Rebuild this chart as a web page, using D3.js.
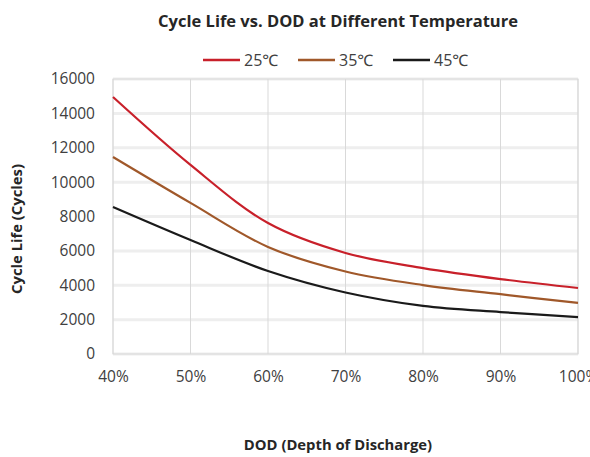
<!DOCTYPE html>
<html>
<head>
<meta charset="utf-8">
<script src="https://cdn.jsdelivr.net/npm/d3@7"></script>
<style>
  body { margin: 0; background: #fff; }
  svg { display: block; font-family: "Open Sans", "Noto Sans", sans-serif; }
</style>
</head>
<body>
<div id="chart"></div>
<script>
// values
var dod = [40, 50, 60, 70, 80, 90, 100];
var life25 = [14950, 11000, 7620, 5880, 5000, 4360, 3840];
var life35 = [11460, 8790, 6230, 4800, 4010, 3480, 2970];
var life45 = [8550, 6630, 4830, 3580, 2800, 2440, 2150];
var seriesNames = ['25℃', '35℃', '45℃'];
var seriesColors = ['#c8202a', '#a0582a', '#1a1a1a'];
var yTicks = [0, 2000, 4000, 6000, 8000, 10000, 12000, 14000, 16000];

var width = 590, height = 457;
var margin = {top: 79, right: 12, bottom: 103, left: 113};

var svg = d3.select('#chart').append('svg')
    .attr('width', width)
    .attr('height', height);

var x = d3.scaleLinear()
    .domain([40, 100])
    .range([margin.left, width - margin.right]);

var y = d3.scaleLinear()
    .domain([0, 16000])
    .range([height - margin.bottom, margin.top]);

// horizontal grid, faint bands
svg.append('g')
  .selectAll('line')
  .data(yTicks)
  .enter().append('line')
    .attr('x1', x(40))
    .attr('x2', x(100))
    .attr('y1', function(d) { return y(d); })
    .attr('y2', function(d) { return y(d); })
    .attr('stroke', '#eeeeee')
    .attr('stroke-width', 3);

// vertical grid
svg.append('g')
  .selectAll('line')
  .data(dod)
  .enter().append('line')
    .attr('x1', function(d) { return x(d); })
    .attr('x2', function(d) { return x(d); })
    .attr('y1', y(0))
    .attr('y2', y(16000))
    .attr('stroke', '#d9d9d9')
    .attr('stroke-width', 1);

// plot frame
svg.append('rect')
    .attr('x', x(40))
    .attr('y', y(16000))
    .attr('width', x(100) - x(40))
    .attr('height', y(0) - y(16000))
    .attr('fill', 'none')
    .attr('stroke', '#d9d9d9');

// axes
var yAxis = svg.append('g')
    .attr('transform', 'translate(' + (margin.left - 15) + ',0)')
    .call(d3.axisLeft(y).tickValues(yTicks).tickSize(0).tickFormat(d3.format('d')));
yAxis.select('.domain').remove();
yAxis.selectAll('text')
    .attr('font-size', 15.5)
    .attr('fill', '#404040')
    .attr('font-family', '"Open Sans", sans-serif');

var xAxis = svg.append('g')
    .attr('transform', 'translate(0,' + (height - margin.bottom + 14) + ')')
    .call(d3.axisBottom(x).tickValues(dod).tickSize(0).tickFormat(function(d) { return d + '%'; }));
xAxis.select('.domain').remove();
xAxis.selectAll('text')
    .attr('font-size', 15.5)
    .attr('fill', '#404040')
    .attr('font-family', '"Open Sans", sans-serif');

// lines
var allSeries = [life25, life35, life45];
var line = d3.line()
    .x(function(d, i) { return x(dod[i]); })
    .y(function(d) { return y(d); })
    .curve(d3.curveCatmullRom.alpha(0.5));

svg.append('g')
  .selectAll('path')
  .data(allSeries)
  .enter().append('path')
    .attr('d', line)
    .attr('fill', 'none')
    .attr('stroke', function(d, i) { return seriesColors[i]; })
    .attr('stroke-width', 2.2);

// title
svg.append('text')
    .attr('x', 338)
    .attr('y', 27)
    .attr('text-anchor', 'middle')
    .attr('font-size', 16.5)
    .attr('font-weight', 'bold')
    .attr('fill', '#262626')
    .text('Cycle Life vs. DOD at Different Temperature');

// legend
var legendX = [203, 298, 393];
var legend = svg.append('g')
  .selectAll('g')
  .data(seriesNames)
  .enter().append('g')
    .attr('transform', function(d, i) { return 'translate(' + legendX[i] + ',60)'; });
legend.append('line')
    .attr('x1', 0).attr('x2', 37)
    .attr('y1', 0).attr('y2', 0)
    .attr('stroke', function(d, i) { return seriesColors[i]; })
    .attr('stroke-width', 2.5);
legend.append('text')
    .attr('x', 41)
    .attr('y', 6)
    .attr('font-size', 16)
    .attr('fill', '#404040')
    .text(function(d) { return d; });

// axis titles
svg.append('text')
    .attr('x', 338)
    .attr('y', 450)
    .attr('text-anchor', 'middle')
    .attr('font-size', 14.8)
    .attr('font-weight', 'bold')
    .attr('fill', '#262626')
    .text('DOD (Depth of Discharge)');

svg.append('text')
    .attr('transform', 'translate(22,' + 229 + ') rotate(-90)')
    .attr('text-anchor', 'middle')
    .attr('font-size', 14.8)
    .attr('font-weight', 'bold')
    .attr('fill', '#262626')
    .text('Cycle Life (Cycles)');
</script>
</body>
</html>
